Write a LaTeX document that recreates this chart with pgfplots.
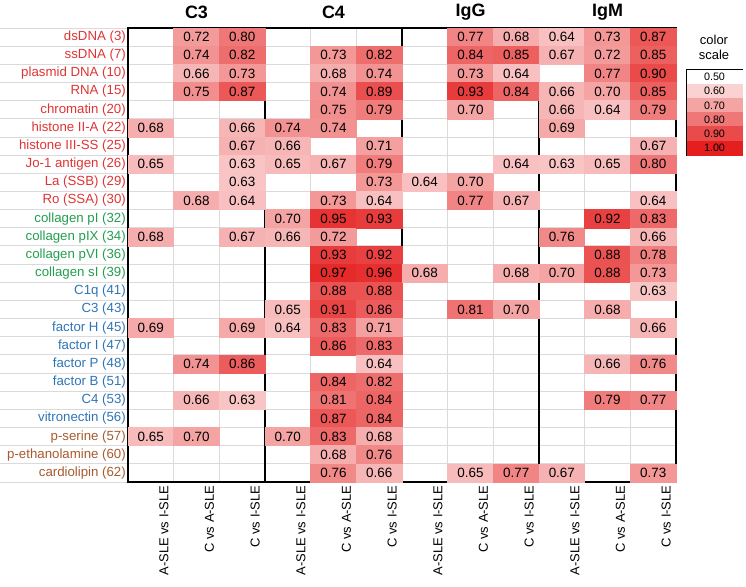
\documentclass[border=0pt]{standalone}
\usepackage{pgfplots}
\pgfplotsset{compat=1.18}
\usepackage{pgfplotstable}
\usepackage{fontspec}
\setmainfont{Liberation Sans}
\pgfkeys{/pgf/number format/assume math mode=true}
\definecolor{lred}{RGB}{224,52,52}
\definecolor{lgreen}{RGB}{34,158,78}
\definecolor{lblue}{RGB}{46,117,182}
\definecolor{lbrown}{RGB}{168,90,44}
\definecolor{gridgray}{RGB}{218,218,218}
\definecolor{heatred}{RGB}{229,30,30}
\pgfplotsset{colormap={redscale}{color(0cm)=(white); color(1cm)=(heatred)}}

% rows: antigens (top to bottom); columns: C3 (A-SLE vs I-SLE, C vs A-SLE, C vs I-SLE), C4, IgG, IgM; 0 = empty
\pgfplotstableread{
c0 c1 c2 c3 c4 c5 c6 c7 c8 c9 c10 c11
0 0.72 0.80 0 0 0 0 0.77 0.68 0.64 0.73 0.87
0 0.74 0.82 0 0.73 0.82 0 0.84 0.85 0.67 0.72 0.85
0 0.66 0.73 0 0.68 0.74 0 0.73 0.64 0 0.77 0.90
0 0.75 0.87 0 0.74 0.89 0 0.93 0.84 0.66 0.70 0.85
0 0 0 0 0.75 0.79 0 0.70 0 0.66 0.64 0.79
0.68 0 0.66 0.74 0.74 0 0 0 0 0.69 0 0
0 0 0.67 0.66 0 0.71 0 0 0 0 0 0.67
0.65 0 0.63 0.65 0.67 0.79 0 0 0.64 0.63 0.65 0.80
0 0 0.63 0 0 0.73 0.64 0.70 0 0 0 0
0 0.68 0.64 0 0.73 0.64 0 0.77 0.67 0 0 0.64
0 0 0 0.70 0.95 0.93 0 0 0 0 0.92 0.83
0.68 0 0.67 0.66 0.72 0 0 0 0 0.76 0 0.66
0 0 0 0 0.93 0.92 0 0 0 0 0.88 0.78
0 0 0 0 0.97 0.96 0.68 0 0.68 0.70 0.88 0.73
0 0 0 0 0.88 0.88 0 0 0 0 0 0.63
0 0 0 0.65 0.91 0.86 0 0.81 0.70 0 0.68 0
0.69 0 0.69 0.64 0.83 0.71 0 0 0 0 0 0.66
0 0 0 0 0.86 0.83 0 0 0 0 0 0
0 0.74 0.86 0 0 0.64 0 0 0 0 0.66 0.76
0 0 0 0 0.84 0.82 0 0 0 0 0 0
0 0.66 0.63 0 0.81 0.84 0 0 0 0 0.79 0.77
0 0 0 0 0.87 0.84 0 0 0 0 0 0
0.65 0.70 0 0.70 0.83 0.68 0 0 0 0 0 0
0 0 0 0 0.68 0.76 0 0 0 0 0 0
0 0 0 0 0.76 0.66 0 0.65 0.77 0.67 0 0.73
}\heat

\pgfplotstableread{
x y v
0 0 0.50
0 1 0.60
0 2 0.70
0 3 0.80
0 4 0.90
0 5 1.00
}\scaletab

\begin{document}
\begin{tikzpicture}
\useasboundingbox (0,0) rectangle (746bp,587bp);
\begin{axis}[
  at={(128bp,105bp)}, anchor=south west, scale only axis,
  width=548bp, height=454bp,
  xmin=-0.5, xmax=11.5, ymin=-0.5, ymax=24.5, y dir=reverse,
  axis line style={draw=none},
  major tick length=0pt, minor tick length=0pt,
  xtick={0,...,11},
  xticklabels={A-SLE vs I-SLE, C vs A-SLE, C vs I-SLE,
               A-SLE vs I-SLE, C vs A-SLE, C vs I-SLE,
               A-SLE vs I-SLE, C vs A-SLE, C vs I-SLE,
               A-SLE vs I-SLE, C vs A-SLE, C vs I-SLE},
  xticklabel style={rotate=90, anchor=east, font=\fontsize{13}{15}\selectfont, yshift=-13bp},
  ytick={0,...,24},
  yticklabels={\textcolor{lred}{dsDNA (3)}, \textcolor{lred}{ssDNA (7)}, \textcolor{lred}{plasmid DNA (10)},
    \textcolor{lred}{RNA (15)}, \textcolor{lred}{chromatin (20)}, \textcolor{lred}{histone II-A (22)},
    \textcolor{lred}{histone III-SS (25)}, \textcolor{lred}{Jo-1 antigen (26)}, \textcolor{lred}{La (SSB) (29)},
    \textcolor{lred}{Ro (SSA) (30)}, \textcolor{lgreen}{collagen pI (32)}, \textcolor{lgreen}{collagen pIX (34)},
    \textcolor{lgreen}{collagen pVI (36)}, \textcolor{lgreen}{collagen sI (39)}, \textcolor{lblue}{C1q (41)},
    \textcolor{lblue}{C3 (43)}, \textcolor{lblue}{factor H (45)}, \textcolor{lblue}{factor I (47)},
    \textcolor{lblue}{factor P (48)}, \textcolor{lblue}{factor B (51)}, \textcolor{lblue}{C4 (53)},
    \textcolor{lblue}{vitronectin (56)}, \textcolor{lbrown}{p-serine (57)}, \textcolor{lbrown}{p-ethanolamine (60)},
    \textcolor{lbrown}{cardiolipin (62)}},
  yticklabel style={font=\fontsize{13.3}{15}\selectfont, inner sep=2bp},
  minor xtick={0.5,1.5,...,10.5}, minor ytick={0.5,1.5,...,23.5},
  xminorgrids, yminorgrids, minor grid style={gridgray, line width=0.9bp},
  colormap name=redscale,
  point meta min=0.5, point meta max=1,
  clip=false,
]
% coloured cells
\pgfplotsinvokeforeach{0,...,11}{
  \addplot[scatter, only marks, mark=square*, mark size=9.08bp,
    point meta=explicit,
    scatter/use mapped color={draw=mapped color, fill=mapped color},
    every mark/.append style={xscale=2.515},
  ] table[x expr=#1, y expr={\thisrow{c#1}>0 ? \coordindex : nan}, meta=c#1]{\heat};
}
% values in the cells
\pgfplotsinvokeforeach{0,...,11}{
  \addplot[draw=none, mark=none, point meta=explicit,
    nodes near coords={\pgfmathprintnumber[fixed,zerofill,precision=2]{\pgfplotspointmeta}},
    nodes near coords align=center,
    every node near coord/.append style={font=\fontsize{13.5}{16}\selectfont, text=black, anchor=center, inner sep=0pt},
  ] table[x expr=#1, y expr={\thisrow{c#1}>0 ? \coordindex : nan}, meta=c#1]{\heat};
}
\pgfplotsinvokeforeach{-0.5,0.5,...,24.5}{
  \draw[gridgray, line width=0.9bp] (axis cs:-0.5,#1) -- ([xshift=-128bp]axis cs:-0.5,#1);
}
\draw[black, line width=1.6bp] (axis cs:-0.5,-0.5) rectangle (axis cs:11.5,24.5);
\pgfplotsinvokeforeach{2.5,5.5,8.5}{
  \draw[black, line width=1.6bp] (axis cs:#1,-0.5) -- (axis cs:#1,24.5);
}
\node[font=\bfseries\fontsize{18}{20}\selectfont, yshift=16bp] at (axis cs:1,-0.5) {C3};
\node[font=\bfseries\fontsize{18}{20}\selectfont, yshift=16bp] at (axis cs:4,-0.5) {C4};
\node[font=\bfseries\fontsize{18}{20}\selectfont, yshift=16bp] at (axis cs:7,-0.5) {IgG};
\node[font=\bfseries\fontsize{18}{20}\selectfont, yshift=16bp] at (axis cs:10,-0.5) {IgM};
\end{axis}

\begin{axis}[
  at={(687bp,432bp)}, anchor=south west, scale only axis,
  width=55bp, height=85bp,
  xmin=-0.5, xmax=0.5, ymin=-0.5, ymax=5.5, y dir=reverse,
  hide axis, clip=false,
  colormap name=redscale,
  point meta min=0.5, point meta max=1,
]
\addplot[scatter, only marks, mark=square*, mark size=7.08bp,
  point meta=explicit,
  scatter/use mapped color={draw=mapped color, fill=mapped color},
  every mark/.append style={xscale=3.88},
] table[x=x, y=y, meta=v]{\scaletab};
\addplot[draw=none, mark=none, point meta=explicit,
  nodes near coords={\pgfmathprintnumber[fixed,zerofill,precision=2]{\pgfplotspointmeta}},
  nodes near coords align=center,
  every node near coord/.append style={font=\fontsize{10.8}{12}\selectfont, text=black, anchor=center, inner sep=0pt},
] table[x=x, y=y, meta=v]{\scaletab};
\draw[black, line width=1.1bp] (axis cs:-0.5,-0.5) rectangle (axis cs:0.5,5.5);
\end{axis}
\node[font=\fontsize{13}{15}\selectfont, align=center] at (714bp,540bp) {color\\scale};
\end{tikzpicture}
\end{document}
